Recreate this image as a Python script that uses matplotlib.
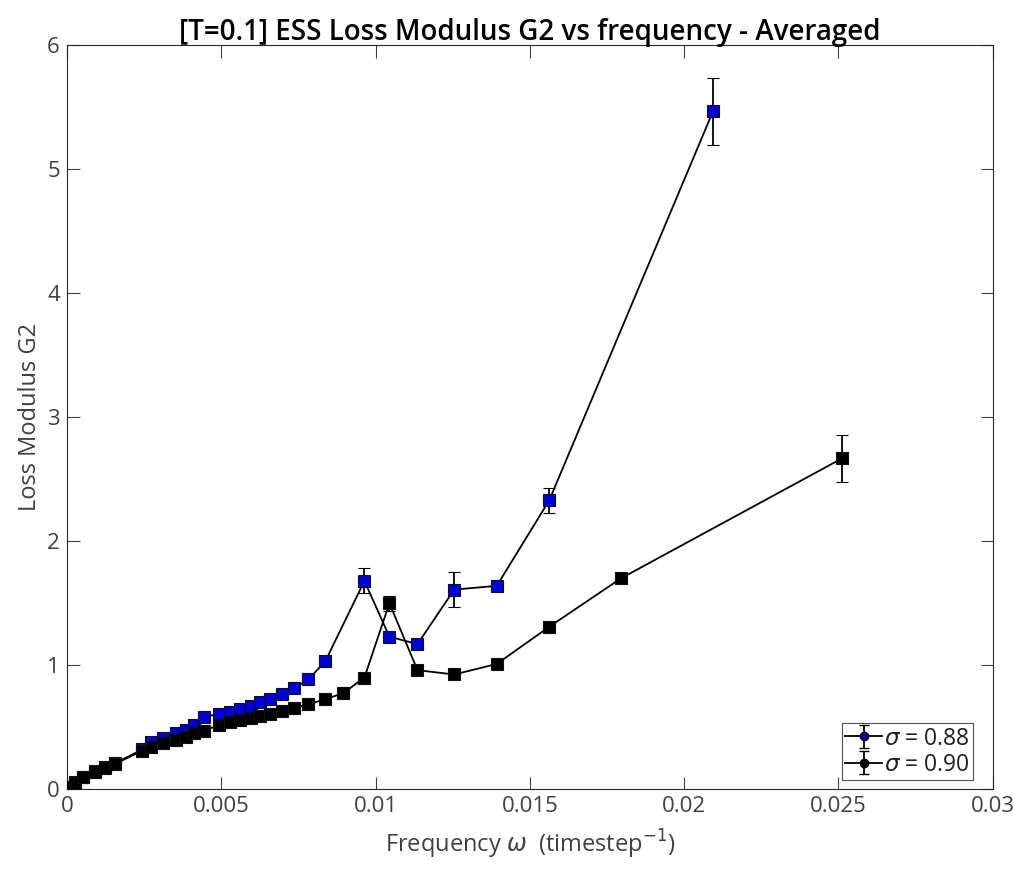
import matplotlib
matplotlib.use("Agg")
import matplotlib.pyplot as plt
import numpy as np

# ---- data ----
x_088 = [0.00005, 0.00027, 0.00053, 0.00092, 0.00125, 0.00157, 0.00244, 0.00272,
         0.00310, 0.00353, 0.00386, 0.00412, 0.00445, 0.00494, 0.00527, 0.00560,
         0.00595, 0.00625, 0.00657, 0.00696, 0.00737, 0.00782, 0.00837, 0.00964,
         0.01045, 0.01136, 0.01255, 0.01393, 0.01563, 0.02094]
y_088 = [0.02, 0.06, 0.10, 0.145, 0.175, 0.21, 0.32, 0.38,
         0.415, 0.45, 0.48, 0.515, 0.58, 0.61, 0.625, 0.645,
         0.67, 0.70, 0.73, 0.77, 0.815, 0.885, 1.03, 1.68,
         1.23, 1.17, 1.61, 1.64, 2.33, 5.47]
e_088 = [0.01, 0.01, 0.01, 0.01, 0.01, 0.01, 0.01, 0.01,
         0.01, 0.01, 0.01, 0.01, 0.02, 0.01, 0.01, 0.01,
         0.01, 0.01, 0.01, 0.01, 0.01, 0.01, 0.02, 0.10,
         0.03, 0.03, 0.14, 0.03, 0.10, 0.27]

x_090 = [0.00005, 0.00027, 0.00053, 0.00092, 0.00125, 0.00157, 0.00244, 0.00272,
         0.00310, 0.00353, 0.00386, 0.00412, 0.00445, 0.00494, 0.00527, 0.00560,
         0.00595, 0.00625, 0.00657, 0.00696, 0.00737, 0.00782, 0.00837, 0.00896,
         0.00964, 0.01045, 0.01136, 0.01255, 0.01393, 0.01563, 0.01795, 0.02513]
y_090 = [0.015, 0.05, 0.095, 0.14, 0.17, 0.205, 0.31, 0.34,
         0.37, 0.395, 0.42, 0.45, 0.47, 0.52, 0.54, 0.555,
         0.57, 0.59, 0.61, 0.63, 0.655, 0.685, 0.725, 0.775,
         0.90, 1.50, 0.96, 0.925, 1.01, 1.31, 1.70, 2.67]
e_090 = [0.01, 0.01, 0.01, 0.01, 0.01, 0.01, 0.01, 0.01,
         0.01, 0.01, 0.01, 0.01, 0.01, 0.01, 0.01, 0.01,
         0.01, 0.01, 0.01, 0.01, 0.01, 0.01, 0.01, 0.01,
         0.02, 0.06, 0.02, 0.02, 0.02, 0.03, 0.03, 0.19]

labels = [r"$\sigma$ = 0.88", r"$\sigma$ = 0.90"]
xticks = [0, 0.005, 0.01, 0.015, 0.02, 0.025, 0.03]
xticklabels = ["0", "0.005", "0.01", "0.015", "0.02", "0.025", "0.03"]
yticks = [0, 1, 2, 3, 4, 5, 6]

plt.rcParams['font.family'] = ['Open Sans', 'DejaVu Sans']
plt.rcParams['mathtext.fontset'] = 'dejavusans'

fig = plt.figure(figsize=(10.14, 8.72), dpi=100)
ax = fig.add_axes([0.066, 0.095, 0.913, 0.853])

grey = '#404040'
common = dict(color='black', linewidth=1.3, marker='s', markersize=8.5,
              markeredgecolor='#101010', markeredgewidth=0.8,
              ecolor='black', elinewidth=1.3, capsize=4, capthick=1.3)
ax.errorbar(x_088, y_088, yerr=e_088, markerfacecolor='#0000d8', zorder=2, **common)
ax.errorbar(x_090, y_090, yerr=e_090, markerfacecolor='black', zorder=3, **common)

# legend proxies
h1 = ax.errorbar([np.nan], [np.nan], yerr=[np.nan], color='black', marker='o',
                 markersize=6, markerfacecolor='#0000b0', markeredgecolor='black',
                 linewidth=1.3, ecolor='black', capsize=3.5, elinewidth=1.3)
h2 = ax.errorbar([np.nan], [np.nan], yerr=[np.nan], color='black', marker='o',
                 markersize=6, markerfacecolor='black', markeredgecolor='black',
                 linewidth=1.3, ecolor='black', capsize=3.5, elinewidth=1.3)
leg = ax.legend([h1, h2], labels, loc='lower right', fontsize=16.5, frameon=True,
                fancybox=False, handlelength=1.6, handletextpad=0.1,
                borderpad=0.15, labelspacing=0.1, borderaxespad=0,
                bbox_to_anchor=(0.979, 0.012))
leg.get_frame().set_edgecolor('#262626')
leg.get_frame().set_linewidth(0.8)
for t in leg.get_texts():
    t.set_color('#202020')

ax.set_xlim(0, 0.03)
ax.set_ylim(0, 6)
ax.set_xticks(xticks)
ax.set_xticklabels(xticklabels)
ax.set_yticks(yticks)
ax.tick_params(direction='in', top=True, right=True, length=9, width=0.8,
               colors=grey, labelsize=16, pad=5)
for s in ax.spines.values():
    s.set_color('#262626')
    s.set_linewidth(0.8)

ax.set_xlabel(r"Frequency $\omega$  (timestep$^{-1}$)", fontsize=17, color=grey, labelpad=8)
ax.set_ylabel("Loss Modulus G2", fontsize=17, color=grey, labelpad=4)
ax.set_title("[T=0.1] ESS Loss Modulus G2 vs frequency - Averaged",
             fontsize=20, fontweight='semibold', color='black', pad=4)

fig.savefig("out.png", dpi=100)
